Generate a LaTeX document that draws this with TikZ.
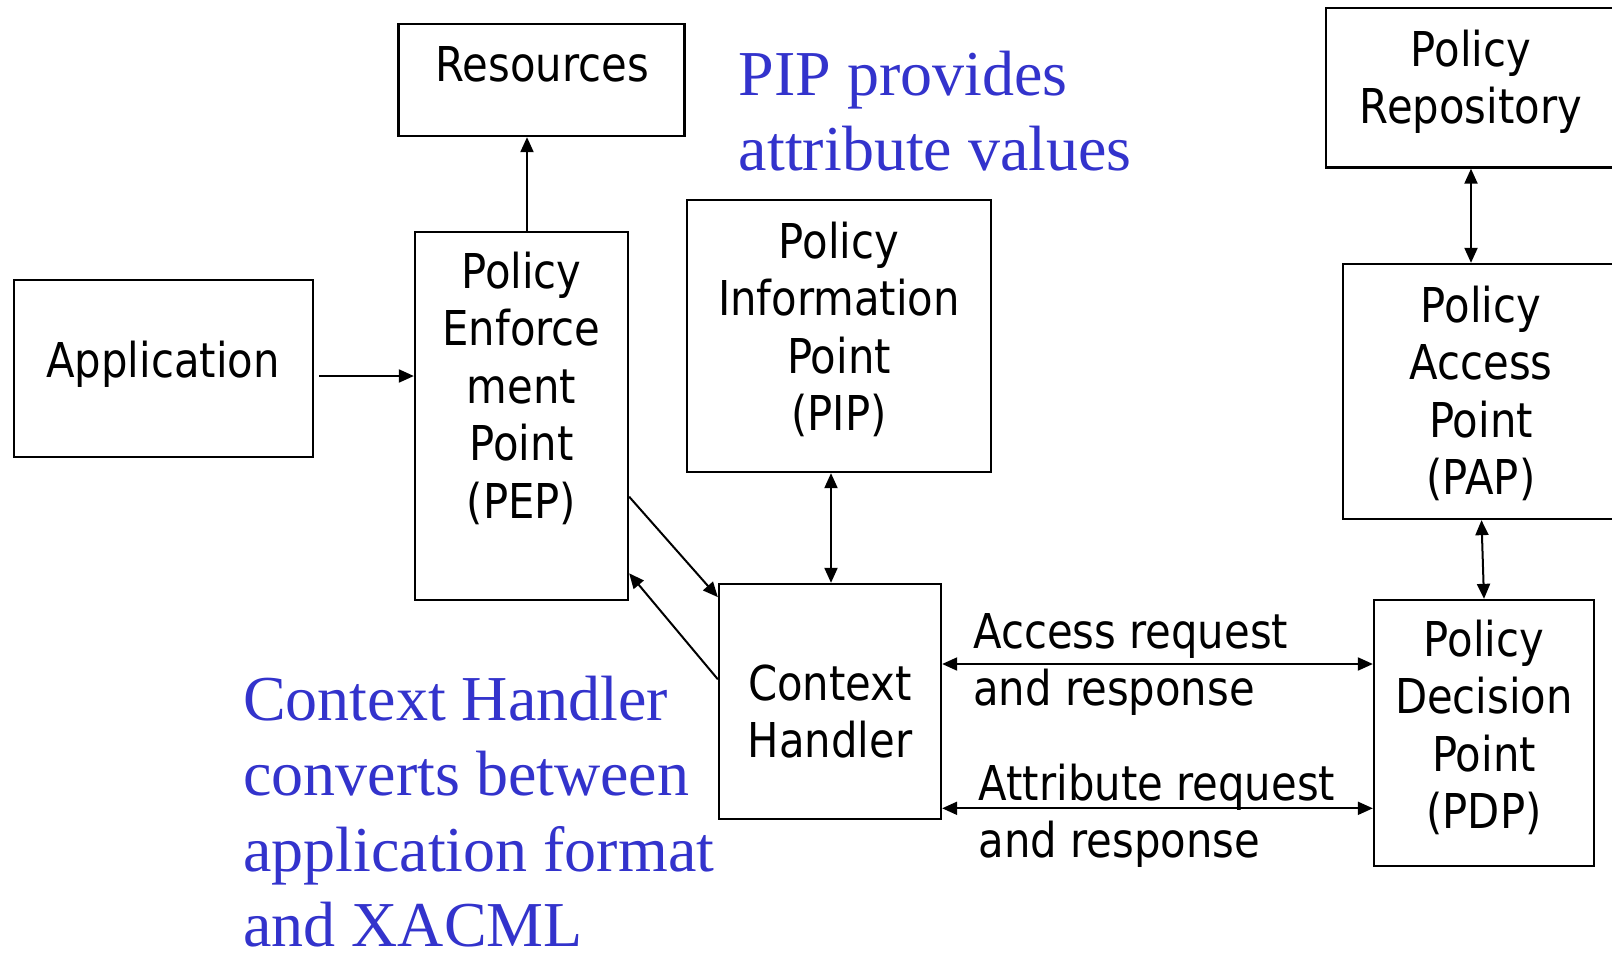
\documentclass[tikz,border=0pt]{standalone}
\usepackage{fontspec}
\usetikzlibrary{arrows.meta,calc}
\newfontfamily\boxfont{DejaVu Sans}[FakeStretch=0.87]
\newfontfamily\notefont{Liberation Serif}
\definecolor{noteblue}{RGB}{51,51,204}
\newcommand\mlinesc[1]{\vtop{\let\\\cr\halign{\hfil##\hfil\cr#1\crcr}}}
\newcommand\mlinesl[1]{\vtop{\let\\\cr\halign{##\hfil\cr#1\crcr}}}
\tikzset{
  box/.style={draw=black, line width=2.3pt, inner sep=0pt},
  lbl/.style={inner sep=0pt, anchor=base, font=\boxfont\fontsize{48}{57.5}\selectfont},
  lbll/.style={lbl, anchor=base west},
  note/.style={inner sep=0pt, anchor=base west, text=noteblue, font=\notefont\fontsize{64}{75.5}\selectfont},
  conn/.style={line width=2pt, -{Triangle[length=15pt,width=13pt]}},
  conntwo/.style={line width=2pt, {Triangle[length=15pt,width=13pt]}-{Triangle[length=15pt,width=13pt]}},
}
\begin{document}
\begin{tikzpicture}[x=1pt,y=-1pt]
\useasboundingbox (0,0) rectangle (1612,953);
\fill[white] (0,0) rectangle (1612,953);

% boxes
\node[box, minimum width=299pt, minimum height=177pt] (app) at (163.5,368.5) {};
\node[box, minimum width=286pt, minimum height=112pt] (res) at (541.4,80) {};
\node[box, minimum width=213pt, minimum height=368pt] (pep) at (521.5,416) {};
\node[box, minimum width=304pt, minimum height=272pt] (pip) at (839,336) {};
\node[box, minimum width=222pt, minimum height=235pt] (ch) at (830,701.5) {};
\node[box, minimum width=292pt, minimum height=159.5pt] (repo) at (1472,87.75) {};
\node[box, minimum width=277pt, minimum height=255pt] (pap) at (1481.5,391.5) {};
\node[box, minimum width=220pt, minimum height=266pt] (pdp) at (1484,733) {};

% box texts
\node[lbl] (resT) at (542.4,81.7) {Resources};
\node[lbl] (appT) at (163,377) {Application};
\node[lbl] (pepT) at (521.5,288) {\mlinesc{Policy\\Enforce\\ment\\Point\\(PEP)}};
\node[lbl] (pipT) at (839,258) {\mlinesc{Policy\\Information\\Point\\(PIP)}};
\node[lbl] (chT) at (830,700) {\mlinesc{Context\\Handler}};
\node[lbl] (repoT) at (1471,66) {\mlinesc{Policy\\Repository}};
\node[lbl] (papT) at (1481,322) {\mlinesc{Policy\\Access\\Point\\(PAP)}};
\node[lbl] (pdpT) at (1484,656) {\mlinesc{Policy\\Decision\\Point\\(PDP)}};

% connector labels
\node[lbll] (accT) at (973,648) {\mlinesl{Access request\\and response}};
\node[lbll] (attT) at (978.5,800) {\mlinesl{Attribute request\\and response}};

% blue notes
\node[note] (pipNote) at (738.7,95) {\mlinesl{PIP provides\\attribute values}};
\node[note] (chNote) at (243,720) {\mlinesl{Context Handler\\converts between\\application format\\and XACML}};

% connectors
\draw[conn] ([shift={(5pt,-7.5pt)}]app.east) coordinate (a1) -- (a1 -| pep.west);
\draw[conn] ([xshift=5.5pt]pep.north) -- ([xshift=5.5pt]pep.north |- res.south);
\draw[conn] ([yshift=-80.7pt]pep.east) -- ([yshift=-14.3pt]ch.north west);
\draw[conn] ([yshift=22.2pt]ch.west) -- ([yshift=-157.3pt]pep.east);
\draw[conntwo] ([xshift=1pt]ch.north |- pip.south) -- ([xshift=1pt]ch.north);
\draw[conntwo] ([xshift=-1pt]repo.south) -- ([xshift=-1pt]repo.south |- pap.north);
\draw[conntwo] (pap.south) -- (pdp.north);
\draw[conntwo] ([yshift=37.5pt]ch.east) coordinate (a2) -- (a2 -| pdp.west);
\draw[conntwo] ([yshift=-106.8pt]ch.east) coordinate (a3) -- (a3 -| pdp.west);
\end{tikzpicture}
\end{document}
